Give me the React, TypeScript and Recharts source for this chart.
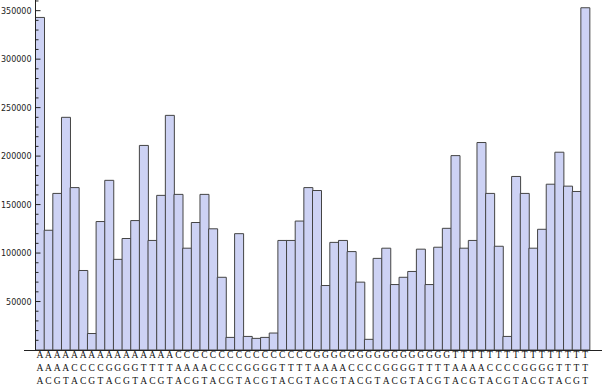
import React from 'react'
import { BarChart, Bar, XAxis, YAxis } from 'recharts'

// trinucleotide counts
const codons = [
  'AAA', 'AAC', 'AAG', 'AAT', 'ACA', 'ACC', 'ACG', 'ACT',
  'AGA', 'AGC', 'AGG', 'AGT', 'ATA', 'ATC', 'ATG', 'ATT',
  'CAA', 'CAC', 'CAG', 'CAT', 'CCA', 'CCC', 'CCG', 'CCT',
  'CGA', 'CGC', 'CGG', 'CGT', 'CTA', 'CTC', 'CTG', 'CTT',
  'GAA', 'GAC', 'GAG', 'GAT', 'GCA', 'GCC', 'GCG', 'GCT',
  'GGA', 'GGC', 'GGG', 'GGT', 'GTA', 'GTC', 'GTG', 'GTT',
  'TAA', 'TAC', 'TAG', 'TAT', 'TCA', 'TCC', 'TCG', 'TCT',
  'TGA', 'TGC', 'TGG', 'TGT', 'TTA', 'TTC', 'TTG', 'TTT',
]

const counts = [
  343000, 123500, 161500, 240000, 167500, 82000, 17000, 132500,
  175000, 93500, 115000, 133500, 211000, 113000, 159500, 242000,
  160500, 105000, 131500, 160500, 125000, 75000, 13000, 120000,
  14000, 12000, 13000, 17500, 113000, 113000, 133000, 167500,
  164500, 66500, 111000, 113000, 101500, 70000, 11000, 94500,
  105000, 67500, 75000, 81000, 104000, 67500, 106000, 125500,
  200500, 105000, 113000, 214000, 161500, 107000, 14000, 179000,
  161500, 105000, 124500, 171000, 204000, 169000, 163500, 353000,
]

// every 10000 gets a tick mark, every 50000 gets a label
const yTicks = [
  10000, 20000, 30000, 40000, 50000, 60000, 70000, 80000, 90000, 100000,
  110000, 120000, 130000, 140000, 150000, 160000, 170000, 180000, 190000, 200000,
  210000, 220000, 230000, 240000, 250000, 260000, 270000, 280000, 290000, 300000,
  310000, 320000, 330000, 340000, 350000, 360000,
]

const data = codons.map((c, i) => ({ codon: c, count: counts[i] }))

const CodonTick = (props: any) => {
  const { x, y, payload } = props
  const letters = String(payload.value).split('')
  return (
    <g transform={`translate(${x},${y})`}>
      {letters.map((ch, i) => (
        <text
          key={i}
          x={0}
          y={8 + i * 13}
          textAnchor="middle"
          fontFamily="'Liberation Serif', serif"
          fontSize={9.5}
          fill="#111"
        >
          {ch}
        </text>
      ))}
    </g>
  )
}

const CountTick = (props: any) => {
  const { x, y, payload } = props
  const major = payload.value % 50000 === 0
  return (
    <g>
      <line x1={x} x2={x + (major ? 5 : 3)} y1={y} y2={y} stroke="#222" strokeWidth={1} />
      {major && (
        <text
          x={x - 4}
          y={y + 3}
          textAnchor="end"
          fontFamily="'DejaVu Sans', sans-serif"
          fontSize={8}
          fill="#222"
        >
          {payload.value}
        </text>
      )}
    </g>
  )
}

const App: React.FC = () => {
  return (
    <div style={{ position: 'relative', width: 602, height: 390, background: '#fff' }}>
      <style>{'body{margin:0}'}</style>
      <BarChart
        width={602}
        height={390}
        data={data}
        margin={{ top: 0, right: 12.5, left: 0, bottom: 0 }}
        barCategoryGap={0}
        barGap={0}
      >
        <XAxis
          dataKey="codon"
          interval={0}
          height={40}
          axisLine={false}
          tickLine={false}
          tickSize={0}
          tickMargin={0}
          tick={<CodonTick />}
        />
        <YAxis
          width={35.5}
          domain={[0, 361000]}
          ticks={yTicks}
          interval={0}
          allowDataOverflow
          axisLine={{ stroke: '#222', strokeWidth: 1 }}
          tickLine={false}
          tickSize={0}
          tickMargin={0}
          tick={<CountTick />}
        />
        <Bar
          dataKey="count"
          fill="#cdd2f4"
          stroke="#444"
          strokeWidth={1}
          isAnimationActive={false}
        />
      </BarChart>
      <div
        style={{
          position: 'absolute',
          left: 24,
          top: 350,
          width: 578,
          height: 1,
          background: '#222',
        }}
      />
    </div>
  )
}

export default App
